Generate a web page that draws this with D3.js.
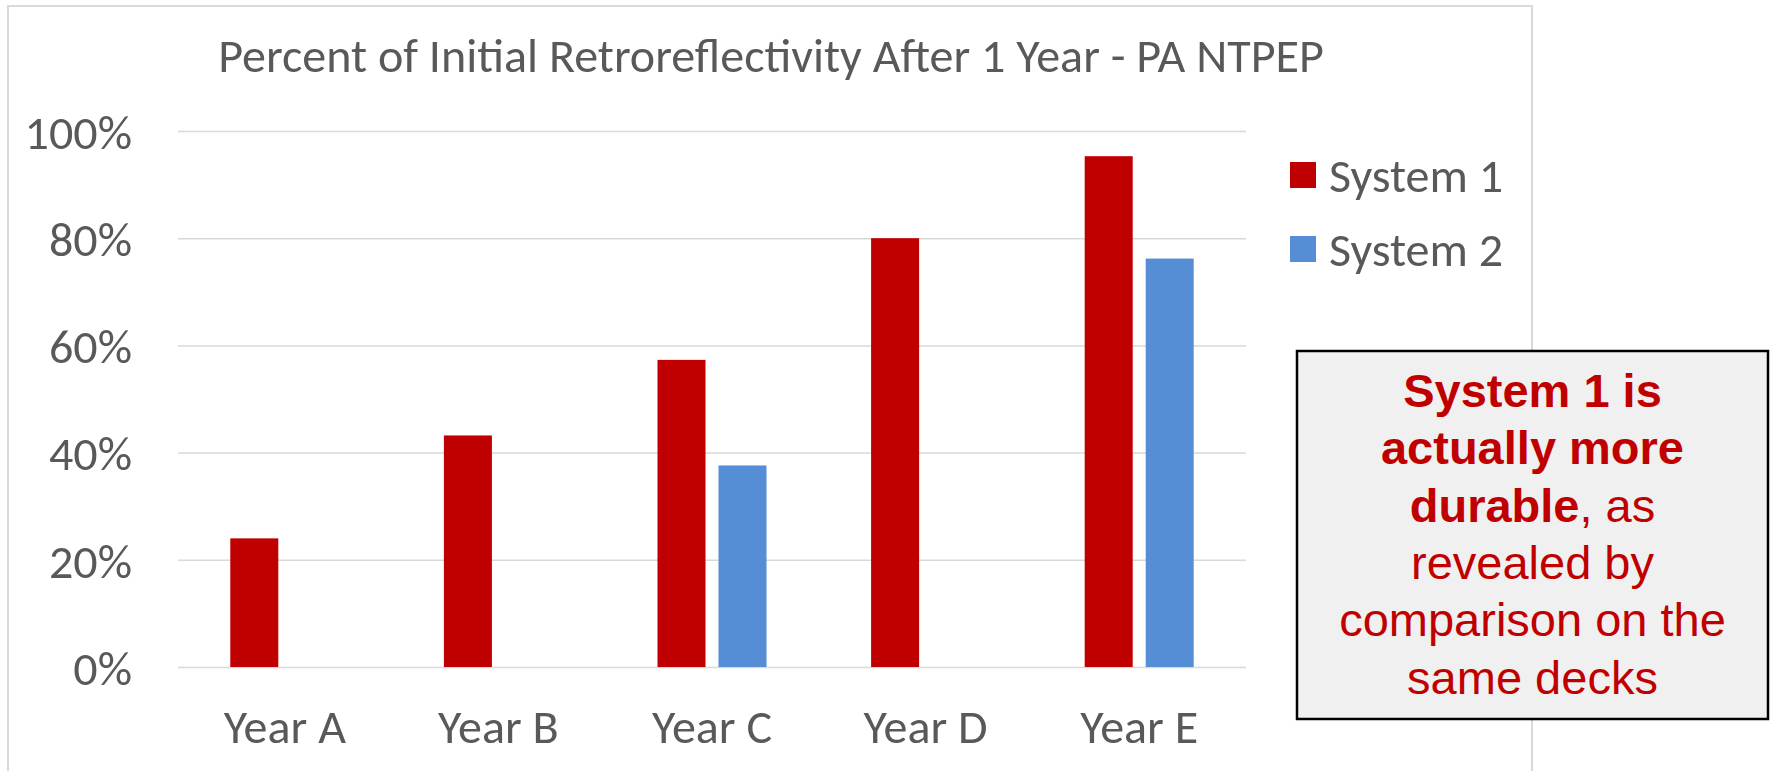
<!DOCTYPE html>
<html>
<head>
<meta charset="utf-8">
<style>
  body { margin: 0; background: #fff; }
  svg { display: block; }
</style>
</head>
<body>
<svg id="chart" width="1779" height="771"></svg>
<script src="https://d3js.org/d3.v7.min.js"></script>
<script>

// data
var categories = ["Year A", "Year B", "Year C", "Year D", "Year E"];
var seriesNames = ["System 1", "System 2"];
var system1 = [24, 43.2, 57.3, 80, 95.3];
var system2 = [null, null, 37.6, null, 76.2];
var yTicks = [0, 20, 40, 60, 80, 100];
var seriesColors = ["#c00000", "#558ed5"];
var titleText = "Percent of Initial Retroreflectivity After 1 Year - PA NTPEP";
var noteLines = [
  [{ t: "System 1 is", bold: true }],
  [{ t: "actually more", bold: true }],
  [{ t: "durable", bold: true }, { t: ", as", bold: false }],
  [{ t: "revealed by", bold: false }],
  [{ t: "comparison on the", bold: false }],
  [{ t: "same decks", bold: false }]
];

var svg = d3.select("#chart");
var textColor = "#595959";
var gridColor = "#d9d9d9";
var uiFont = "Carlito, Calibri, Lato, sans-serif";

var plot = { left: 178, right: 1246, top: 131, bottom: 667 };

// chart frame
svg.append("rect")
  .attr("x", 8).attr("y", 6)
  .attr("width", 1524).attr("height", 820)
  .attr("fill", "#fff")
  .attr("stroke", gridColor)
  .attr("stroke-width", 2);

// fit the substitute font to the width of the original title
var probe = svg.append("text")
  .attr("font-family", uiFont)
  .attr("font-size", 46)
  .text(titleText);
var k = 1106 / probe.node().getComputedTextLength();
probe.remove();
var fs = 46 * k;

svg.append("text")
  .attr("x", 771).attr("y", 72)
  .attr("text-anchor", "middle")
  .attr("font-family", uiFont)
  .attr("font-size", fs)
  .attr("fill", textColor)
  .text(titleText);

var y = d3.scaleLinear().domain([0, 100]).range([plot.bottom, plot.top]);
var x0 = d3.scaleBand().domain(categories).range([plot.left, plot.right]);
var x1 = d3.scaleBand().domain(seriesNames)
  .range([0, x0.bandwidth()])
  .paddingInner(0.213)
  .paddingOuter(0.857);
var color = d3.scaleOrdinal().domain(seriesNames).range(seriesColors);

// y axis + gridlines
var yAxis = svg.append("g")
  .attr("transform", "translate(" + plot.left + ",0)")
  .call(d3.axisLeft(y)
    .tickValues(yTicks)
    .tickFormat(function (d) { return d + "%"; })
    .tickSize(-(plot.right - plot.left))
    .tickPadding(46));
yAxis.select(".domain").remove();
yAxis.selectAll(".tick line").attr("stroke", gridColor).attr("stroke-width", 1.5);
yAxis.selectAll(".tick text")
  .attr("font-family", uiFont)
  .attr("font-size", fs)
  .attr("fill", textColor)
  .attr("dy", "0.36em");

// x axis labels
var xAxis = svg.append("g")
  .attr("transform", "translate(0," + plot.bottom + ")")
  .call(d3.axisBottom(x0).tickSize(0));
xAxis.select(".domain").remove();
xAxis.selectAll(".tick text")
  .attr("font-family", uiFont)
  .attr("font-size", fs)
  .attr("fill", textColor)
  .attr("y", 76)
  .attr("dy", 0);

// bars
var rows = categories.map(function (c, i) {
  return { cat: c, values: [
    { name: seriesNames[0], v: system1[i] },
    { name: seriesNames[1], v: system2[i] }
  ].filter(function (d) { return d.v != null; }) };
});

svg.append("g").selectAll("g")
  .data(rows)
  .join("g")
    .attr("transform", function (d) { return "translate(" + x0(d.cat) + ",0)"; })
  .selectAll("rect")
  .data(function (d) { return d.values; })
  .join("rect")
    .attr("x", function (d) { return x1(d.name); })
    .attr("width", x1.bandwidth())
    .attr("y", function (d) { return y(d.v); })
    .attr("height", function (d) { return y(0) - y(d.v); })
    .attr("fill", function (d) { return color(d.name); });

// legend
var legend = svg.append("g").attr("transform", "translate(1290,162)");
var items = legend.selectAll("g")
  .data(seriesNames)
  .join("g")
    .attr("transform", function (d, i) { return "translate(0," + (i * 74) + ")"; });
items.append("rect")
  .attr("width", 26).attr("height", 26)
  .attr("fill", function (d) { return color(d); });
items.append("text")
  .attr("x", 39).attr("y", 13)
  .attr("dy", "0.36em")
  .attr("font-family", uiFont)
  .attr("font-size", fs)
  .attr("fill", textColor)
  .text(function (d) { return d; });

// annotation box
svg.append("rect")
  .attr("x", 1297).attr("y", 351)
  .attr("width", 471).attr("height", 368)
  .attr("fill", "#f0f0f0")
  .attr("stroke", "#000")
  .attr("stroke-width", 2.5);

var note = svg.append("text")
  .attr("text-anchor", "middle")
  .attr("font-family", "'Liberation Sans', Arial, sans-serif")
  .attr("font-size", 47)
  .attr("fill", "#c00000");
noteLines.forEach(function (line, i) {
  line.forEach(function (part, j) {
    var ts = note.append("tspan")
      .attr("font-weight", part.bold ? "bold" : "normal")
      .text(part.t);
    if (j === 0) ts.attr("x", 1532.5).attr("y", 407 + i * 57.3);
  });
});

</script>
</body>
</html>
